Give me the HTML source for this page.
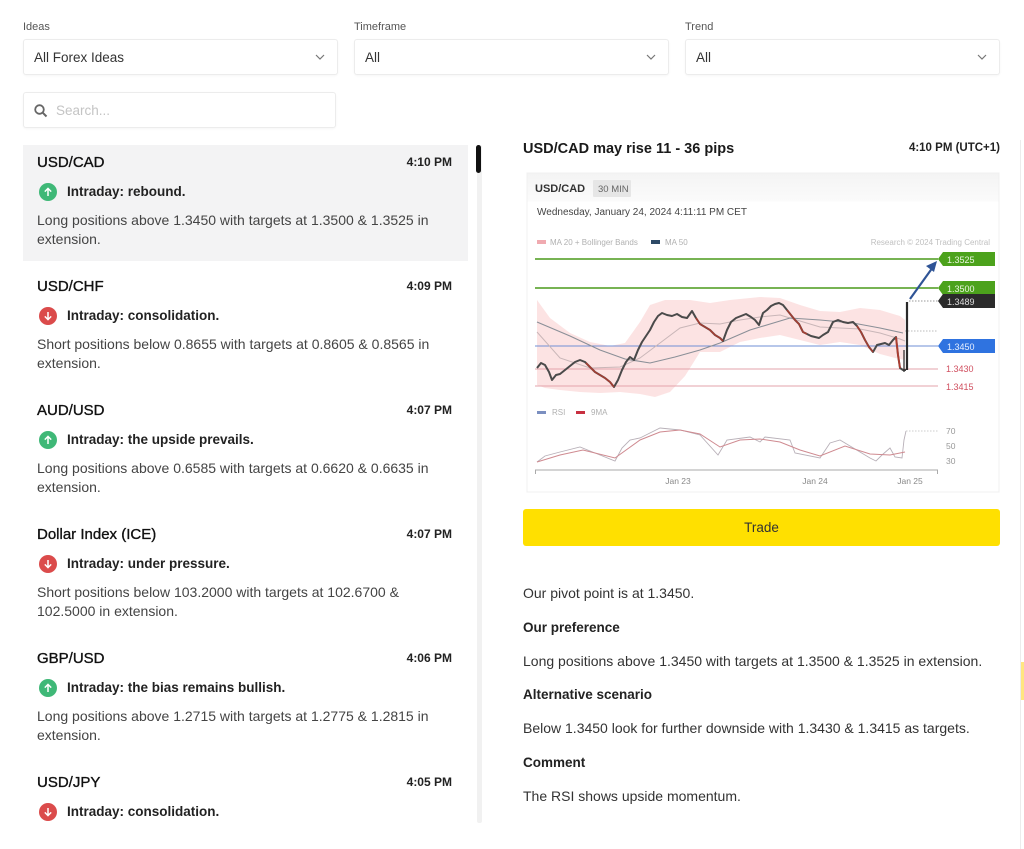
<!DOCTYPE html>
<html><head><meta charset="utf-8">
<style>
*{margin:0;padding:0;box-sizing:border-box}
html,body{width:1024px;height:849px;background:#fff;overflow:hidden;font-family:"Liberation Sans",Arial,sans-serif;color:#222}
.abs{position:absolute}
.lbl{font-size:11px;color:#555}
.dd{position:absolute;height:36px;border:1px solid #ececec;border-radius:3px;background:#fff;box-shadow:0 1px 2px rgba(0,0,0,0.04)}
.dd span{position:absolute;left:10px;top:10px;font-size:13.5px;color:#333}
.dd svg{position:absolute;right:12px;top:14px}
.item{position:absolute;left:23px;width:445px;height:116px}
.item .t{position:absolute;left:14px;top:9px;font-size:15px;color:#111;-webkit-text-stroke:0.35px #111}
.item .tm{position:absolute;right:16px;top:10px;font-size:12px;font-weight:bold;color:#222}
.item .ic{position:absolute;left:16px;top:38px;width:18px;height:18px;border-radius:50%}
.item .ic svg{position:absolute;left:4px;top:4px}
.g{background:#3fb877}.r{background:#db4b4b}
.item .s{position:absolute;left:44px;top:39px;font-size:13.5px;font-weight:bold;color:#222}
.item .d{position:absolute;left:14px;top:66px;font-size:14px;line-height:19px;color:#444;width:430px}
.rp{position:absolute;left:523px;font-size:14px;color:#333}
.rb{position:absolute;left:523px;font-size:13.5px;font-weight:bold;color:#222}
</style></head><body>

<div class="abs lbl" style="left:23px;top:21px">Ideas</div>
<div class="abs lbl" style="left:354px;top:21px">Timeframe</div>
<div class="abs lbl" style="left:685px;top:21px">Trend</div>

<div class="dd" style="left:23px;top:39px;width:315px"><span>All Forex Ideas</span><svg width="10" height="6"><polyline points="1,1 5,5 9,1" fill="none" stroke="#777" stroke-width="1.2"/></svg></div>
<div class="dd" style="left:354px;top:39px;width:315px"><span>All</span><svg width="10" height="6"><polyline points="1,1 5,5 9,1" fill="none" stroke="#777" stroke-width="1.2"/></svg></div>
<div class="dd" style="left:685px;top:39px;width:315px"><span>All</span><svg width="10" height="6"><polyline points="1,1 5,5 9,1" fill="none" stroke="#777" stroke-width="1.2"/></svg></div>

<div class="dd" style="left:23px;top:92px;width:313px">
<svg width="14" height="14" style="left:10px;top:11px;right:auto"><circle cx="5.5" cy="5.5" r="4.3" fill="none" stroke="#666" stroke-width="1.8"/><line x1="8.6" y1="8.6" x2="12.5" y2="12.5" stroke="#666" stroke-width="2"/></svg>
<span style="left:32px;color:#c4c4c4">Search...</span></div>

<!-- list -->
<div class="abs" style="left:23px;top:145px;width:445px;height:116px;background:#f3f3f4"></div>
<div class="abs" style="left:477px;top:145px;width:5px;height:678px;background:#f1f1f1;border-radius:2px"></div>
<div class="abs" style="left:476px;top:145px;width:5px;height:28px;background:#111;border-radius:3px"></div>

<div class="item" style="top:145px"><div class="t">USD/CAD</div><div class="tm">4:10 PM</div>
<div class="ic g"><svg width="10" height="10"><path d="M5 9V1.5M1.8 4.6 5 1.4 8.2 4.6" fill="none" stroke="#fff" stroke-width="1.5"/></svg></div>
<div class="s">Intraday: rebound.</div>
<div class="d">Long positions above 1.3450 with targets at 1.3500 &amp; 1.3525 in<br>extension.</div></div>

<div class="item" style="top:269px"><div class="t">USD/CHF</div><div class="tm">4:09 PM</div>
<div class="ic r"><svg width="10" height="10"><path d="M5 1v7.5M1.8 5.4 5 8.6 8.2 5.4" fill="none" stroke="#fff" stroke-width="1.5"/></svg></div>
<div class="s">Intraday: consolidation.</div>
<div class="d">Short positions below 0.8655 with targets at 0.8605 &amp; 0.8565 in<br>extension.</div></div>

<div class="item" style="top:393px"><div class="t">AUD/USD</div><div class="tm">4:07 PM</div>
<div class="ic g"><svg width="10" height="10"><path d="M5 9V1.5M1.8 4.6 5 1.4 8.2 4.6" fill="none" stroke="#fff" stroke-width="1.5"/></svg></div>
<div class="s">Intraday: the upside prevails.</div>
<div class="d">Long positions above 0.6585 with targets at 0.6620 &amp; 0.6635 in<br>extension.</div></div>

<div class="item" style="top:517px"><div class="t">Dollar Index (ICE)</div><div class="tm">4:07 PM</div>
<div class="ic r"><svg width="10" height="10"><path d="M5 1v7.5M1.8 5.4 5 8.6 8.2 5.4" fill="none" stroke="#fff" stroke-width="1.5"/></svg></div>
<div class="s">Intraday: under pressure.</div>
<div class="d">Short positions below 103.2000 with targets at 102.6700 &amp;<br>102.5000 in extension.</div></div>

<div class="item" style="top:641px"><div class="t">GBP/USD</div><div class="tm">4:06 PM</div>
<div class="ic g"><svg width="10" height="10"><path d="M5 9V1.5M1.8 4.6 5 1.4 8.2 4.6" fill="none" stroke="#fff" stroke-width="1.5"/></svg></div>
<div class="s">Intraday: the bias remains bullish.</div>
<div class="d">Long positions above 1.2715 with targets at 1.2775 &amp; 1.2815 in<br>extension.</div></div>

<div class="item" style="top:765px;height:58px;overflow:hidden"><div class="t">USD/JPY</div><div class="tm">4:05 PM</div>
<div class="ic r"><svg width="10" height="10"><path d="M5 1v7.5M1.8 5.4 5 8.6 8.2 5.4" fill="none" stroke="#fff" stroke-width="1.5"/></svg></div>
<div class="s">Intraday: consolidation.</div></div>

<!-- right panel -->
<div class="abs" style="left:523px;top:141px;font-size:14.5px;font-weight:bold;color:#1a1a1a">USD/CAD may rise 11 - 36 pips</div>
<div class="abs" style="right:24px;top:142px;font-size:11.5px;font-weight:bold;color:#222">4:10 PM (UTC+1)</div>

<svg class="abs" style="left:523px;top:170px" width="480" height="325" viewBox="523 170 480 325" font-family="Liberation Sans, Arial, sans-serif">
<defs><linearGradient id="hd" x1="0" y1="0" x2="0" y2="1"><stop offset="0" stop-color="#f4f4f4"/><stop offset="1" stop-color="#fbfbfb"/></linearGradient></defs>
<rect x="527" y="173" width="472" height="319" fill="#fff" stroke="#f0f0f0"/>
<rect x="527.5" y="173.5" width="471" height="28" fill="url(#hd)"/>
<text x="535" y="192" font-size="11" font-weight="bold" fill="#333">USD/CAD</text>
<rect x="593" y="180" width="38" height="17" fill="#e6e6e6" rx="1"/>
<text x="598" y="192" font-size="9.5" fill="#666">30 MIN</text>
<text x="537" y="215" font-size="10" fill="#444">Wednesday, January 24, 2024 4:11:11 PM CET</text>
<rect x="537" y="240" width="9" height="4" fill="#f0aab0"/>
<text x="550" y="245" font-size="8" fill="#b0b0b0">MA 20 + Bollinger Bands</text>
<rect x="651" y="240" width="9" height="4" fill="#2e4a66"/>
<text x="665" y="245" font-size="8" fill="#b0b0b0">MA 50</text>
<text x="990" y="245" font-size="8" fill="#c0c0c0" text-anchor="end">Research © 2024 Trading Central</text>

<!-- bollinger band -->
<polygon fill="#fbdcdc" opacity="0.8" points="537,300 550,318 570,333 590,342 610,346 625,343 640,322 650,305 665,300 690,300 710,303 730,300 760,297 780,298 800,305 820,311 840,312 860,308 880,310 900,316 905,320 905,360 895,358 880,354 860,345 840,342 820,345 800,340 780,335 760,338 740,342 720,352 700,352 685,376 670,392 655,397 640,394 620,392 600,393 580,392 560,390 545,388 537,385"/>

<!-- levels -->
<line x1="535" y1="259" x2="938" y2="259" stroke="#4a9a1a" stroke-width="1.5"/>
<line x1="535" y1="288" x2="938" y2="288" stroke="#4a9a1a" stroke-width="1.5"/>
<line x1="535" y1="346" x2="938" y2="346" stroke="#6f8fd6" stroke-width="1"/>
<line x1="535" y1="369" x2="938" y2="369" stroke="#e3a3ab" stroke-width="1"/>
<line x1="535" y1="386" x2="938" y2="386" stroke="#e3a3ab" stroke-width="1"/>
<line x1="909" y1="301" x2="938" y2="301" stroke="#999" stroke-dasharray="1.5 1.5"/>
<line x1="905" y1="331" x2="938" y2="331" stroke="#bbb" stroke-dasharray="1.5 1.5"/>

<!-- MA lines -->
<polyline fill="none" stroke="#c9b6b8" stroke-width="1" points="537,332 560,358 590,368 620,367 640,358 660,343 680,328 700,323 720,324 740,320 760,317 780,315 800,321 820,327 840,328 860,329 880,333 900,339 905,341"/>
<polyline fill="none" stroke="#8a8f97" stroke-width="1.1" points="537,322 570,336 600,350 625,359 650,363 675,357 700,350 720,343 750,330 790,318 820,320 853,323 880,328 903,333"/>

<!-- price -->
<polyline fill="none" stroke="#4a4a4a" stroke-width="2" stroke-linejoin="round" points="537,368 541,363 545,365 549,372 552,380 556,375 560,374 565,370 570,366 575,362 580,360 585,362 590,367 595,372 600,375 605,378 610,382 614,387 618,380 622,370 626,362 630,357 634,360 638,350 642,342 646,336 650,330 654,322 658,316 662,313 667,315 672,316 677,314 682,317 687,318 692,311 696,318 700,324 705,327 710,330 715,335 720,338 723,341 727,330 731,322 736,318 741,316 746,314 751,317 755,320 759,325 763,313 767,310 771,306 775,304 779,303 783,305 787,310 791,315 795,320 799,324 803,332 807,334 811,336 815,337 819,338 823,335 828,332 833,322 838,320 843,322 848,323 853,322 857,326 861,332 865,340 869,347 873,352 877,345 881,344 885,343 889,345 893,340 896,337 898,355 900,368 903,370 906,370"/>
<polyline fill="none" stroke="#c0392b" stroke-width="1.6" opacity="0.75" points="586,363 590,367 595,372 600,375 605,378 610,382 614,387"/>
<polyline fill="none" stroke="#c0392b" stroke-width="1.6" opacity="0.75" points="696,318 700,324 705,327 710,330 715,335 720,338 723,341"/>
<polyline fill="none" stroke="#c0392b" stroke-width="1.6" opacity="0.75" points="787,310 791,315 795,320 799,324 803,332 807,334"/>
<polyline fill="none" stroke="#c0392b" stroke-width="1.6" opacity="0.75" points="857,326 861,332 865,340 869,347 873,352"/>
<polyline fill="none" stroke="#c0392b" stroke-width="1.8" opacity="0.85" points="896,337 898,355 900,368"/>
<line x1="907" y1="370" x2="907" y2="302" stroke="#2a2a2a" stroke-width="2.2"/>
<line x1="904" y1="372" x2="904" y2="350" stroke="#333" stroke-width="1.3"/>

<!-- arrow -->
<line x1="910" y1="299" x2="933" y2="267" stroke="#2f5496" stroke-width="2.2"/>
<polygon points="937,261 926,266 934,272" fill="#2f5496"/>

<!-- labels -->
<polygon points="938,259 943,252 995,252 995,266 943,266" fill="#4ca21c"/>
<text x="947" y="263" font-size="9" fill="#eaf6e0">1.3525</text>
<polygon points="938,288 943,281 995,281 995,295 943,295" fill="#4ca21c"/>
<text x="947" y="292" font-size="9" fill="#eaf6e0">1.3500</text>
<polygon points="938,301 943,294 995,294 995,308 943,308" fill="#2b2b2b"/>
<text x="947" y="305" font-size="9" fill="#ddd">1.3489</text>
<polygon points="938,346 943,339 995,339 995,353 943,353" fill="#2f73e0"/>
<text x="947" y="350" font-size="9" fill="#e6efff">1.3450</text>
<text x="946" y="372" font-size="9" fill="#d05060">1.3430</text>
<text x="946" y="390" font-size="9" fill="#d05060">1.3415</text>

<!-- RSI legend -->
<rect x="537" y="411" width="9" height="3" fill="#7b8fc0"/>
<text x="552" y="415" font-size="8" fill="#b0b0b0">RSI</text>
<rect x="576" y="411" width="9" height="3" fill="#c83040"/>
<text x="591" y="415" font-size="8" fill="#b0b0b0">9MA</text>

<polyline fill="none" stroke="#b8b0b8" stroke-width="0.9" points="537,462 545,456 560,452 580,447 600,455 615,461 622,448 630,440 640,438 660,428 680,430 700,435 718,455 727,440 750,437 760,442 765,437 790,440 795,453 820,458 830,443 840,440 855,449 870,458 876,461 882,455 890,448 895,457 902,458 904,440 906,431"/>
<polyline fill="none" stroke="#cf8a90" stroke-width="1" points="537,462 560,455 583,450 615,458 640,440 660,432 680,430 700,434 720,447 740,440 760,439 780,442 800,450 820,456 845,446 870,454 890,455 905,452"/>
<line x1="906" y1="431" x2="938" y2="431" stroke="#ccc" stroke-dasharray="1.5 1.5"/>
<text x="946" y="434" font-size="8.5" fill="#999">70</text>
<text x="946" y="449" font-size="8.5" fill="#999">50</text>
<text x="946" y="464" font-size="8.5" fill="#999">30</text>

<line x1="535" y1="470" x2="938" y2="470" stroke="#aaa" stroke-width="1"/>
<line x1="535.5" y1="470" x2="535.5" y2="474" stroke="#aaa"/>
<line x1="937.5" y1="470" x2="937.5" y2="474" stroke="#aaa"/>
<text x="678" y="484" font-size="8.5" fill="#888" text-anchor="middle">Jan 23</text>
<text x="815" y="484" font-size="8.5" fill="#888" text-anchor="middle">Jan 24</text>
<text x="910" y="484" font-size="8.5" fill="#888" text-anchor="middle">Jan 25</text>
</svg>

<div class="abs" style="left:523px;top:509px;width:477px;height:37px;background:#ffe000;border-radius:3px;text-align:center;line-height:37px;font-size:13.5px;color:#333">Trade</div>

<div class="rp" style="top:585px">Our pivot point is at 1.3450.</div>
<div class="rb" style="top:620px">Our preference</div>
<div class="rp" style="top:653px">Long positions above 1.3450 with targets at 1.3500 &amp; 1.3525 in extension.</div>
<div class="rb" style="top:687px">Alternative scenario</div>
<div class="rp" style="top:720px">Below 1.3450 look for further downside with 1.3430 &amp; 1.3415 as targets.</div>
<div class="rb" style="top:755px">Comment</div>
<div class="rp" style="top:788px">The RSI shows upside momentum.</div>

<div class="abs" style="left:1020px;top:140px;width:1px;height:709px;background:#ececec"></div>
<div class="abs" style="left:1021px;top:662px;width:3px;height:38px;background:#ffe680"></div>
</body></html>
